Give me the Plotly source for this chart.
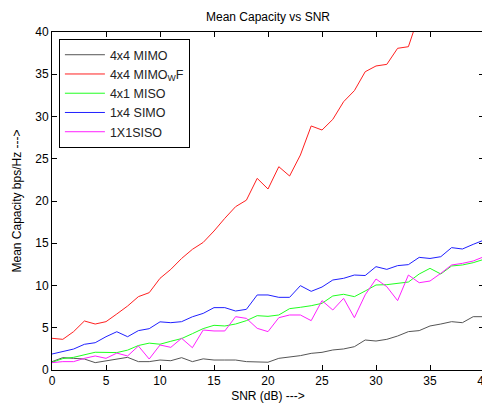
import plotly.graph_objects as go

snr = list(range(0, 41))

mimo = [0.99, 1.46, 1.38, 1.3, 0.87, 1.1, 1.26, 1.5, 0.99, 0.99, 1.18, 1.1, 1.46, 0.99, 1.32,
        1.18, 1.18, 1.18, 0.99, 0.99, 0.92, 1.38, 1.5, 1.7, 1.97, 2.09, 2.37, 2.49, 2.76, 3.55,
        3.43, 3.63, 4.02, 4.54, 4.66, 5.21, 5.44, 5.72, 5.6, 6.31, 6.31]

mimo_wf = [3.75, 3.63, 4.54, 5.80, 5.44, 5.72, 6.63, 7.57, 8.68, 9.15, 10.85, 11.91, 13.2, 14.28,
           15.1, 16.45, 17.95, 19.33, 20.1, 22.68, 21.42, 24.06, 22.96, 25.44, 28.88, 28.4, 29.66,
           31.75, 33.06, 35.3, 35.98, 36.17, 38.07, 38.26, 42.1, 43.6, 45.2, 46.8, 48.3, 49.9, 51.4]

miso = [0.9, 1.35, 1.5, 1.82, 2.1, 2.08, 2.06, 2.35, 2.9, 3.18, 3.05, 3.4, 3.72, 4.3, 4.9,
        5.29, 5.21, 5.44, 5.84, 6.43, 6.35, 6.51, 7.26, 7.42, 7.61, 7.89, 8.76, 8.96, 8.68, 9.35,
        10.06, 10.1, 10.22, 10.41, 11.36, 12.03, 11.36, 12.31, 12.43, 12.7, 13.1]

simo = [1.89, 2.17, 2.48, 3.04, 3.23, 3.94, 4.53, 3.94, 4.66, 4.89, 5.7, 5.6, 5.72, 6.3, 6.7,
        7.38, 7.38, 6.98, 7.18, 8.88, 8.88, 8.6, 8.6, 9.98, 9.31, 9.82, 10.65, 10.85, 11.24, 11.18,
        12.23, 11.91, 12.35, 12.47, 13.33, 13.2, 13.41, 14.48, 14.32, 14.87, 15.38]

siso = [0.87, 0.99, 0.99, 1.38, 1.66, 1.38, 2.0, 1.66, 2.84, 1.3, 2.96, 2.68, 3.75, 2.64, 4.73,
        4.62, 4.62, 6.31, 6.11, 4.93, 4.54, 6.19, 6.51, 6.51, 5.84, 8.21, 7.1, 8.48, 6.19, 8.9,
        10.77, 9.86, 8.21, 11.24, 10.33, 10.53, 11.44, 12.43, 12.62, 12.9, 13.41]

names = ["4x4 MIMO", "4x4 MIMO<sub>W</sub>F", "4x1 MISO", "1x4 SIMO", "1X1SISO"]
series = [mimo, mimo_wf, miso, simo, siso]
colors = ["#555555", "#ff2020", "#20ff20", "#2020ff", "#ff20ff"]

fig = go.Figure()
for name, ys, c in zip(names, series, colors):
    fig.add_trace(go.Scatter(x=snr, y=ys, mode="lines", name=name,
                             line=dict(color=c, width=1)))

font = "Liberation Sans, Arial, sans-serif"
axis_common = dict(showline=True, linecolor="black", linewidth=1, mirror="ticks",
                   ticks="inside", ticklen=5, tickcolor="black", showgrid=False,
                   zeroline=False, tickfont=dict(family=font, size=12, color="black"),
                   dtick=5, tick0=0, automargin=False, ticklabeloverflow="allow")

# the page body has an 8px margin, so the figure is offset and the margins compensate
W, H = 490, 397
fig.update_layout(
    width=W, height=H,
    margin=dict(l=44, r=14, t=24, b=35),
    paper_bgcolor="white", plot_bgcolor="white",
    title=dict(text="Mean Capacity vs SNR", x=0.5, xref="paper", y=1 - 9 / H,
               yanchor="middle", font=dict(family=font, size=12, color="black")),
    xaxis=dict(range=[0, 40], title=dict(text="SNR (dB) --->", standoff=4,
                                         font=dict(family=font, size=12, color="black")),
               **axis_common),
    yaxis=dict(range=[0, 40], title=dict(text="Mean Capacity bps/Hz --->", standoff=11,
                                         font=dict(family=font, size=12, color="black")),
               **axis_common),
    legend=dict(x=0.016, y=0.979, xanchor="left", yanchor="top",
                bgcolor="white", bordercolor="black", borderwidth=1,
                font=dict(family=font, size=12.5, color="#222222"),
                tracegroupgap=0, itemwidth=40),
    showlegend=True,
)

fig.write_html("out.html")
